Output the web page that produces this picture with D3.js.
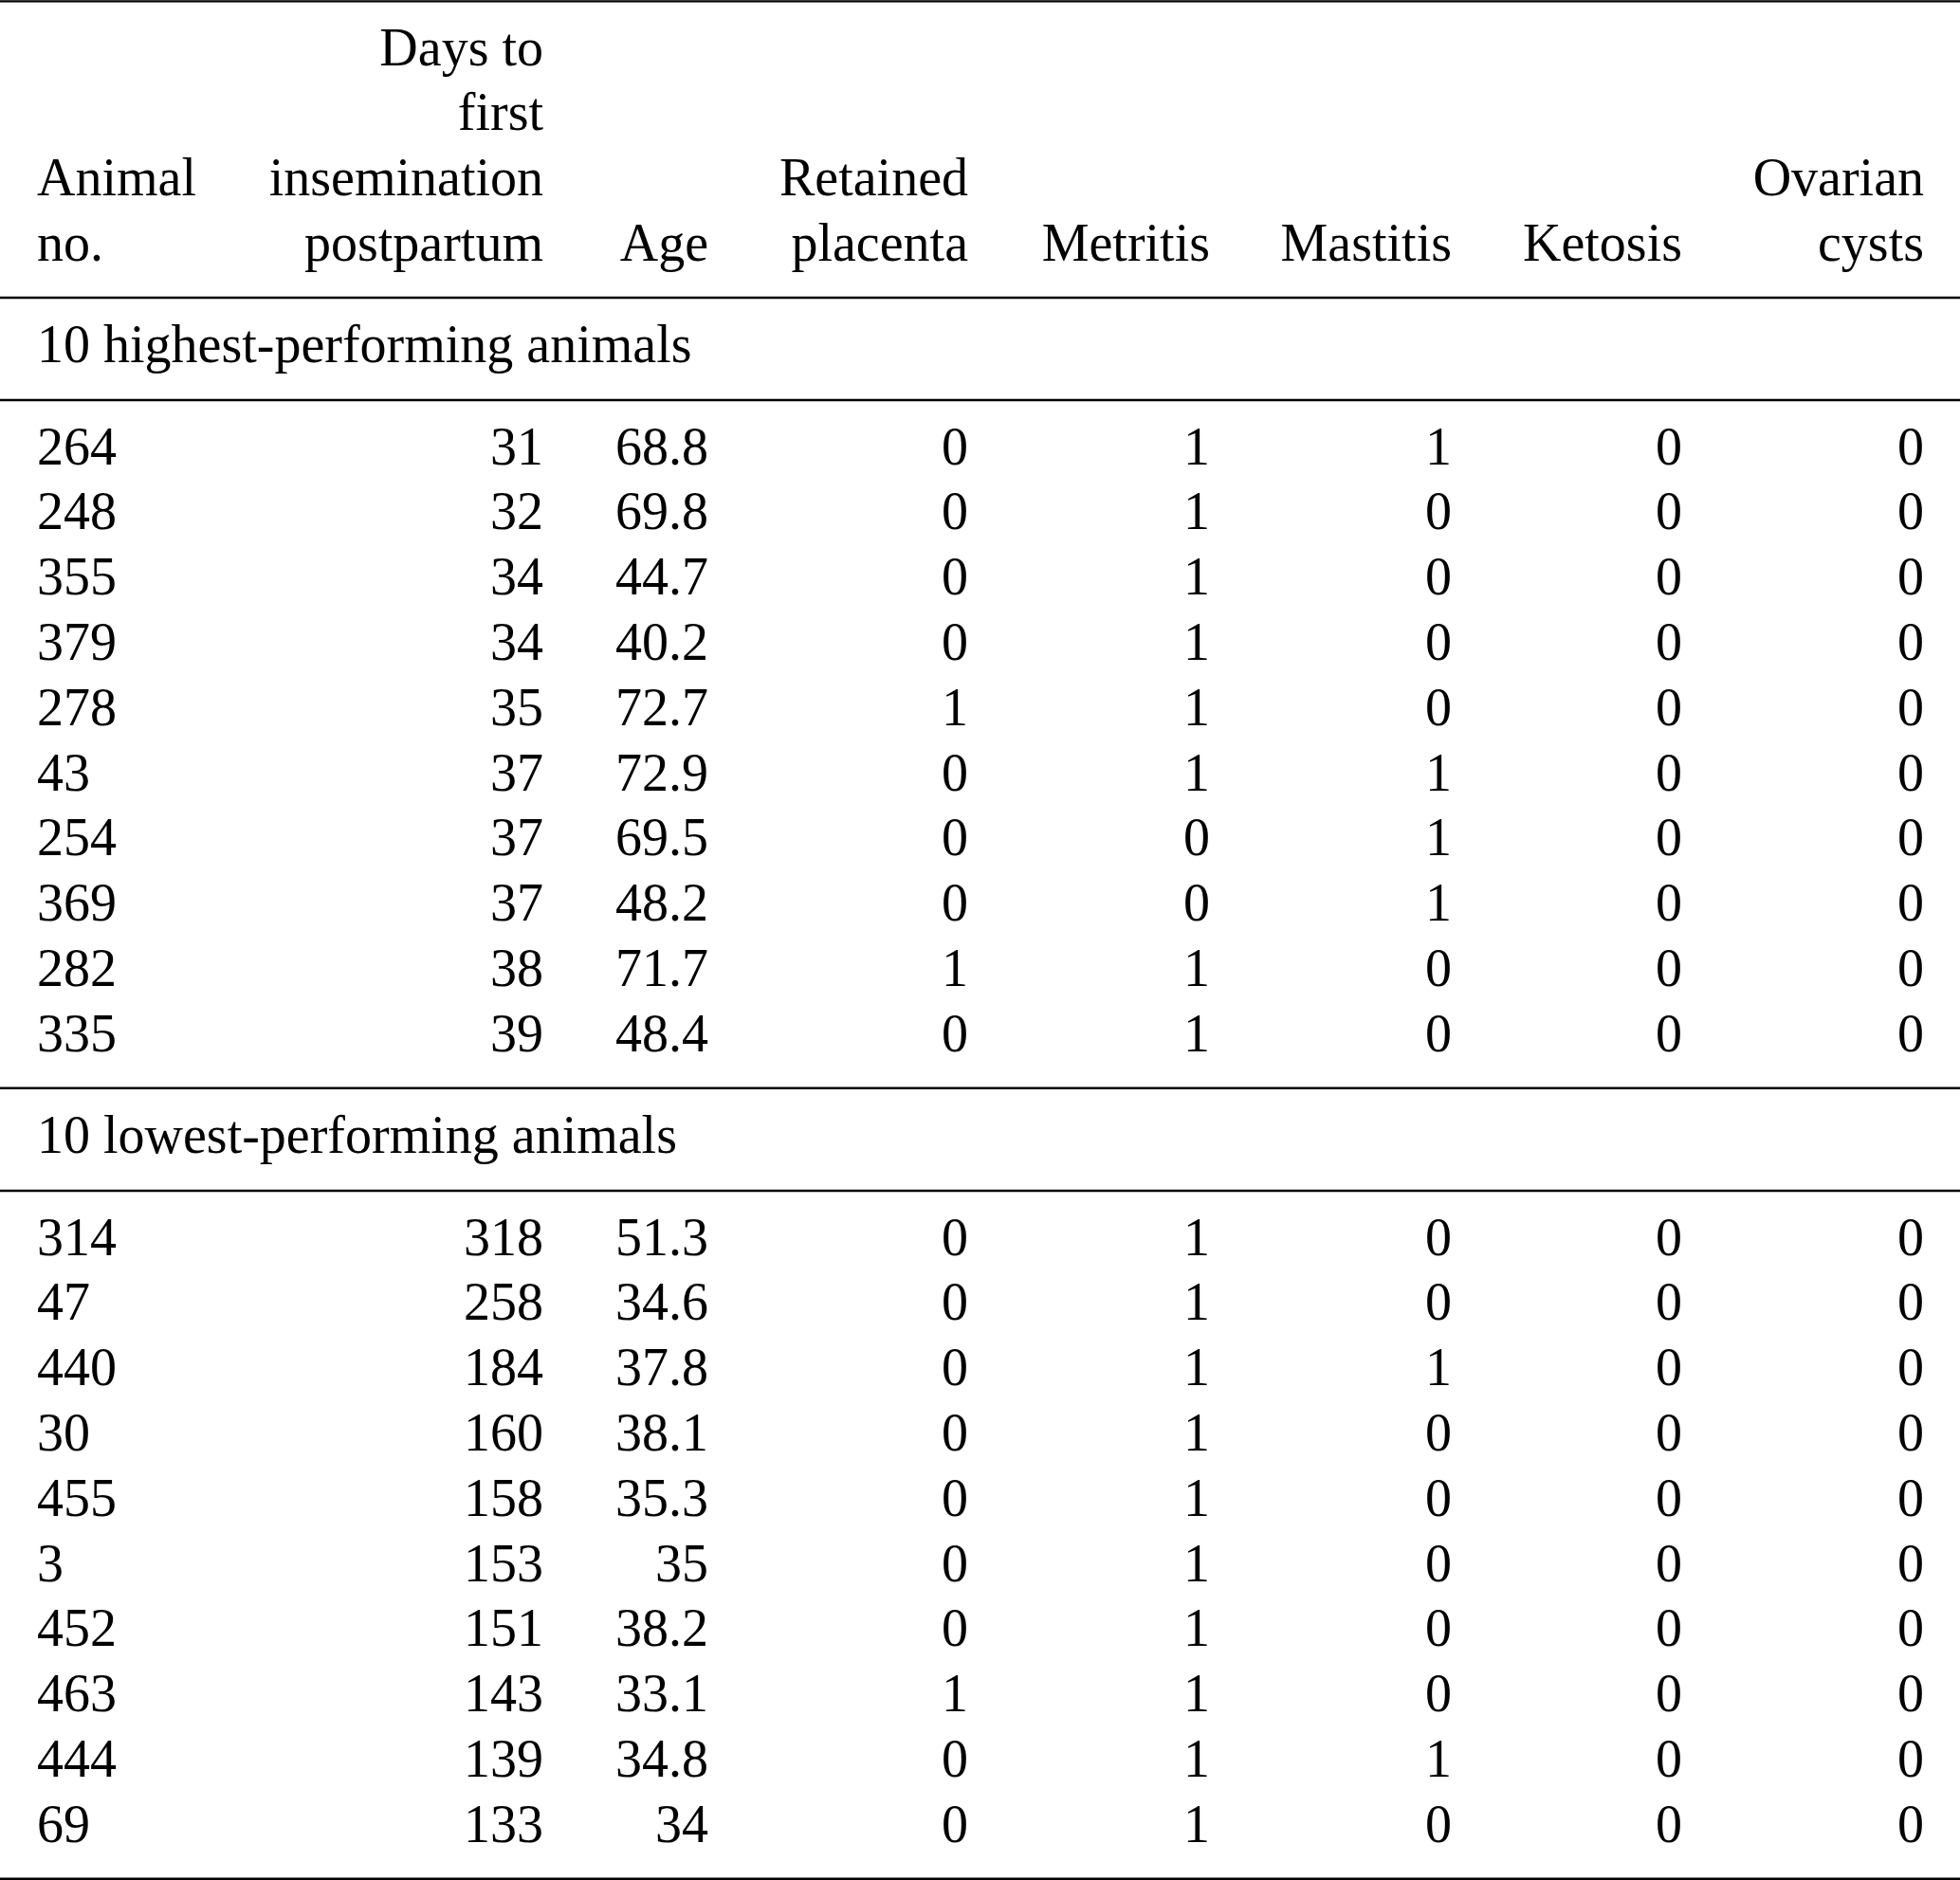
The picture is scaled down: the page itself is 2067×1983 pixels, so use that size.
<!DOCTYPE html>
<html>
<head>
<meta charset="utf-8">
<script src="https://cdn.jsdelivr.net/npm/d3@7/dist/d3.min.js"></script>
<style>
  html, body { margin: 0; padding: 0; background: #fff; }
  svg { display: block; }
  text { font-family: "Liberation Serif", "Times New Roman", serif; font-size: 56px; fill: #000; }
</style>
</head>
<body>
<script>
// ---- data ----
const columnKeys = ["animal", "days", "age", "retained", "metritis", "mastitis", "ketosis", "ovarian"];
const columnHeaders = [
  ["Animal", "no."],
  ["Days to", "first", "insemination", "postpartum"],
  ["Age"],
  ["Retained", "placenta"],
  ["Metritis"],
  ["Mastitis"],
  ["Ketosis"],
  ["Ovarian", "cysts"]
];
const groupLabels = ["10 highest-performing animals", "10 lowest-performing animals"];

const highAnimal   = [264, 248, 355, 379, 278, 43, 254, 369, 282, 335];
const highDays     = [31, 32, 34, 34, 35, 37, 37, 37, 38, 39];
const highAge      = [68.8, 69.8, 44.7, 40.2, 72.7, 72.9, 69.5, 48.2, 71.7, 48.4];
const highRetained = [0, 0, 0, 0, 1, 0, 0, 0, 1, 0];
const highMetritis = [1, 1, 1, 1, 1, 1, 0, 0, 1, 1];
const highMastitis = [1, 0, 0, 0, 0, 1, 1, 1, 0, 0];
const highKetosis  = [0, 0, 0, 0, 0, 0, 0, 0, 0, 0];
const highOvarian  = [0, 0, 0, 0, 0, 0, 0, 0, 0, 0];

const lowAnimal    = [314, 47, 440, 30, 455, 3, 452, 463, 444, 69];
const lowDays      = [318, 258, 184, 160, 158, 153, 151, 143, 139, 133];
const lowAge       = [51.3, 34.6, 37.8, 38.1, 35.3, 35, 38.2, 33.1, 34.8, 34];
const lowRetained  = [0, 0, 0, 0, 0, 0, 0, 1, 0, 0];
const lowMetritis  = [1, 1, 1, 1, 1, 1, 1, 1, 1, 1];
const lowMastitis  = [0, 0, 1, 0, 0, 0, 0, 0, 1, 0];
const lowKetosis   = [0, 0, 0, 0, 0, 0, 0, 0, 0, 0];
const lowOvarian   = [0, 0, 0, 0, 0, 0, 0, 0, 0, 0];

// ---- build tables ----
function buildRows(cols) {
  return cols[0].map((_, i) => {
    const r = {};
    columnKeys.forEach((k, j) => r[k] = cols[j][i]);
    return r;
  });
}
const groups = [
  { label: groupLabels[0], rows: buildRows([highAnimal, highDays, highAge, highRetained, highMetritis, highMastitis, highKetosis, highOvarian]) },
  { label: groupLabels[1], rows: buildRows([lowAnimal, lowDays, lowAge, lowRetained, lowMetritis, lowMastitis, lowKetosis, lowOvarian]) }
];

// ---- layout ----
const W = 2067, H = 1983;
const lineH = 68.8;
const svg = d3.select("body").append("svg").attr("width", W).attr("height", H);
svg.append("rect").attr("width", W).attr("height", H).attr("fill", "#fff");

// column anchors (first column left-aligned, others right-aligned)
const xCol = d3.scaleOrdinal()
  .domain(columnKeys)
  .range([39, 573, 747, 1021, 1276, 1531, 1774, 2029]);
const anchorOf = k => k === "animal" ? "start" : "end";

// header: bottom-aligned lines, last baseline at 275
const headerBase = 275;
columnHeaders.forEach((lines, j) => {
  const k = columnKeys[j];
  lines.forEach((t, li) => {
    svg.append("text")
      .attr("x", xCol(k))
      .attr("y", headerBase - (lines.length - 1 - li) * lineH)
      .attr("text-anchor", anchorOf(k))
      .text(t);
  });
});

function rule(y) {
  svg.append("line").attr("x1", 0).attr("x2", W).attr("y1", y).attr("y2", y)
    .attr("stroke", "#000").attr("stroke-width", 2.4);
}
rule(1.4);
rule(314);

const groupTop = [314, 1148];
groups.forEach((g, gi) => {
  const top = groupTop[gi];
  const labelBase = top + 68;
  svg.append("text").attr("x", 39).attr("y", labelBase).text(g.label);
  const sepY = top + 108;
  rule(sepY);
  const y = d3.scaleLinear().domain([0, 9]).range([sepY + 67.5, sepY + 67.5 + 9 * lineH]);
  const rowG = svg.append("g").selectAll("g").data(g.rows).join("g");
  columnKeys.forEach(k => {
    rowG.append("text")
      .attr("x", xCol(k))
      .attr("y", (d, i) => y(i))
      .attr("text-anchor", anchorOf(k))
      .text(d => String(d[k]));
  });
  rule(y(9) + 39);
});
</script>
</body>
</html>
